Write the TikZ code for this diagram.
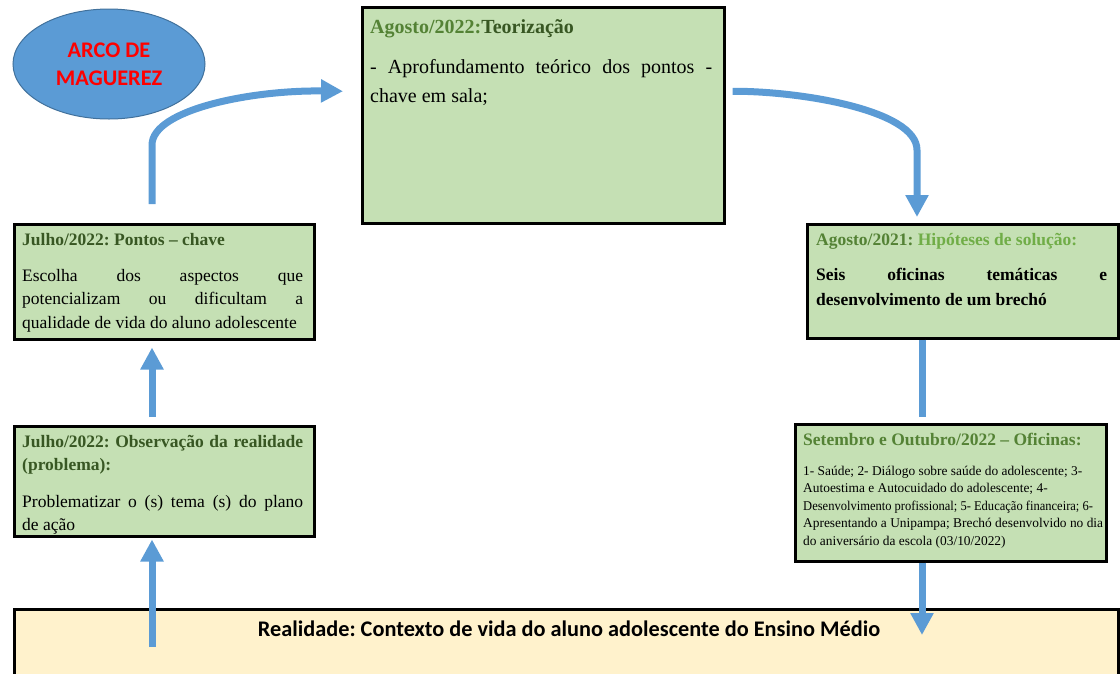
\documentclass[tikz,border=0pt]{standalone}
\usepackage{fontspec}
\setmainfont{Liberation Serif}
\newfontfamily\calib{Carlito}
\newfontfamily\narrowser[FakeStretch=0.935]{Liberation Serif}
\usetikzlibrary{arrows.meta,shapes.geometric,calc}
\definecolor{gfill}{HTML}{C5E0B4}
\definecolor{yfill}{HTML}{FFF2CC}
\definecolor{arrblue}{HTML}{5B9BD5}
\definecolor{ellborder}{HTML}{41719C}
\definecolor{tgreen}{HTML}{548235}
\definecolor{dgreen}{HTML}{385723}
\definecolor{lgreen}{HTML}{70AD47}
\definecolor{redtxt}{HTML}{FF0000}
\hyphenpenalty=10000
\exhyphenpenalty=10000
\frenchspacing
\newcommand\mystrut{\rule{0pt}{20pt}}
\tikzset{
  gbox/.style={draw=black, line width=2.5pt, fill=gfill, rectangle, inner sep=0pt, anchor=north west},
  txt/.style={inner sep=0pt, anchor=north west, align=justify},
  arr/.style={draw=arrblue, line width=7pt, -{Triangle[width=22pt,length=22pt]}},
  conn/.style={draw=arrblue, line width=7pt},
}
\begin{document}
\frenchspacing
\begin{tikzpicture}[x=1pt,y=-1pt]
\useasboundingbox (0,0) rectangle (1120,673);
\clip (0,0) rectangle (1120,673);

% ellipse
\node[ellipse, minimum width=192pt, minimum height=110pt, fill=arrblue, draw=ellborder, line width=1pt,
      text=redtxt, align=center, font=\calib\bfseries\fontsize{22.3}{28}\selectfont] (arco) at (109,64) {ARCO DE\\MAGUEREZ};

% boxes
\node[gbox, minimum width=362pt, minimum height=216pt] (top) at (361,6) {};
\node[gbox, minimum width=300pt, minimum height=115pt] (pontos) at (13,223) {};
\node[gbox, minimum width=300pt, minimum height=110pt] (obs) at (13,425) {};
\node[gbox, minimum width=311pt, minimum height=114pt] (hip) at (806,223) {};
\node[gbox, minimum width=311pt, minimum height=137pt] (set) at (794,423) {};
\node[gbox, fill=yfill, minimum width=1104pt, minimum height=100pt] (real) at (13,608) {};

% top box text
\node[txt, font=\fontsize{20}{24}\selectfont] (toptitle) at (370,13)
  {\mystrut\textbf{\color{tgreen}Agosto/2022:}\textbf{\color{dgreen}Teorização}};
\node[txt, text width=342pt, font=\fontsize{20}{29}\selectfont] (topbody) at (370,53)
  {\mystrut- Aprofundamento teórico dos pontos -\linebreak chave em sala;};

% pontos text
\node[txt, font=\fontsize{17.5}{23.5}\selectfont] (ptitle) at (22,225)
  {\mystrut\textbf{\color{dgreen}Julho/2022: Pontos – chave}};
\node[txt, text width=281pt, font=\fontsize{17.5}{23.5}\selectfont] (pbody) at (22,261)
  {\mystrut Escolha dos aspectos que\linebreak potencializam ou dificultam a\linebreak qualidade de vida do aluno adolescente};

% obs text
\node[txt, text width=281pt, font=\fontsize{17.5}{23}\bfseries\selectfont, text=dgreen] (otitle) at (22,427)
  {\mystrut Julho/2022: Observação da realidade\linebreak (problema):};
\node[txt, text width=281pt, font=\fontsize{17.5}{23}\selectfont] (obody) at (22,487)
  {\mystrut Problematizar o (s) tema (s) do plano\linebreak de ação};

% hip text
\node[txt, font=\fontsize{17.5}{23}\bfseries\selectfont] (htitle) at (816,225)
  {\mystrut{\color{tgreen}Agosto/2021: }{\color{lgreen}Hipóteses de solução:}};
\node[txt, text width=291pt, font=\fontsize{17.5}{25}\bfseries\selectfont] (hbody) at (816,260)
  {\mystrut Seis oficinas temáticas e\linebreak desenvolvimento de um brechó};

% set text
\node[txt, font=\fontsize{17.5}{23}\bfseries\selectfont, text=tgreen] (stitle) at (803,425)
  {\mystrut Setembro e Outubro/2022 – Oficinas:};
\node[inner sep=0pt, anchor=north west, align=left, font=\fontsize{13.4}{17.5}\selectfont] (sbody) at (803,455)
  {\mystrut 1- Saúde; 2- Diálogo sobre saúde do adolescente; 3-\\
   Autoestima e Autocuidado do adolescente; 4-\\
   {\narrowser Desenvolvimento profissional; 5- Educação financeira; 6-}\\
   Apresentando a Unipampa; Brechó desenvolvido no dia\\
   do aniversário da escola (03/10/2022)};

% bottom text
\node[inner sep=0pt, anchor=base, font=\calib\bfseries\fontsize{22.3}{26}\selectfont] (rtext) at (569,636)
  {Realidade: Contexto de vida do aluno adolescente do Ensino Médio};

% connector coordinates
\coordinate (lx) at (152,0);
\coordinate (rx) at (922,0);
\coordinate (cx) at (917,0);
\coordinate (a1s) at (152,647);
\coordinate (a2s) at (152,417);

% arrows
\draw[arr] (a1s) -- ($(lx |- obs.south)+(0,2)$);
\draw[arr] (a2s) -- ($(lx |- pontos.south)+(0,7)$);
\draw[arr] ($(lx |- pontos.north)+(0,-19)$) -- (152,145)
   .. controls (152,110) and (250,90) .. ($(top.west)+(-18,-24)$);
\draw[arr] ($(top.east)+(7,-24)$) .. controls (800,91) and (917,110) .. (917,150)
   -- ($(cx |- hip.north)+(0,-6)$);
\draw[conn] (rx |- hip.south) -- ($(rx |- set.north)+(0,-6)$);
\draw[arr] (rx |- set.south) -- ($(rx |- real.north)+(0,27)$);
\end{tikzpicture}
\end{document}
